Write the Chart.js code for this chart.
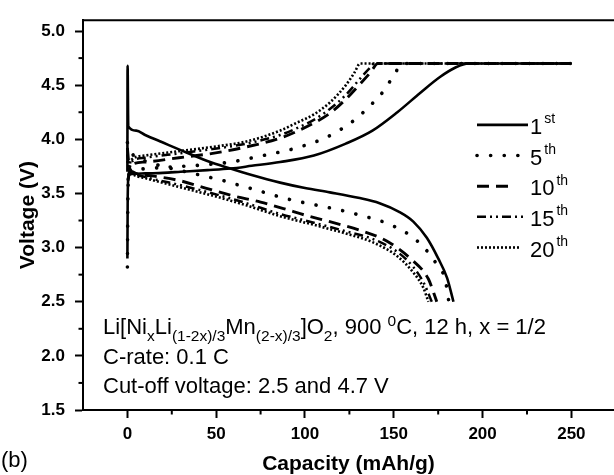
<!DOCTYPE html>
<html><head><meta charset="utf-8">
<script src="https://cdn.jsdelivr.net/npm/chart.js@4.4.1/dist/chart.umd.min.js"></script>
<style>html,body{margin:0;padding:0;background:#fff;overflow:hidden}canvas{display:block}</style>
</head><body>
<canvas id="c" width="614" height="475"></canvas>
<script>
// ---- axis ticks ----
const xTickValues = [0, 50, 100, 150, 200, 250];
const xMinorTickValues = [25, 75, 125, 175, 225];
const yTickValues = [1.5, 2.0, 2.5, 3.0, 3.5, 4.0, 4.5, 5.0];
const yMinorTickValues = [1.75, 2.25, 2.75, 3.25, 3.75, 4.25, 4.75];

// ---- cycle labels ----
const cycleNumbers = ['1', '5', '10', '15', '20'];
const cycleSuffixes = ['st', 'th', 'th', 'th', 'th'];

// ---- 1st cycle ----
const cap1Charge  = [0, 0.15, 0.4, 1, 3, 10, 20, 30, 45, 58, 70, 86, 105, 123, 138, 152, 165, 176, 185, 192, 250];
const volt1Charge = [2.90, 3.40, 3.62, 3.67, 3.68, 3.685, 3.69, 3.70, 3.715, 3.73, 3.755, 3.79, 3.85, 3.96, 4.08, 4.25, 4.43, 4.575, 4.665, 4.70, 4.70];
const cap1Discharge  = [0, 0.1, 0.5, 5, 10, 20, 30, 45, 58, 70, 86, 100, 114, 130, 142, 153, 161, 168.6, 175, 180, 183.6];
const volt1Discharge = [3.70, 4.68, 4.12, 4.08, 4.04, 3.97, 3.90, 3.80, 3.73, 3.67, 3.60, 3.55, 3.51, 3.46, 3.41, 3.33, 3.24, 3.09, 2.90, 2.72, 2.50];

// ---- 5th cycle ----
const cap5Charge  = [0, 0.3, 1, 5, 20, 40, 58, 75, 93, 102, 111, 120, 128, 136, 144, 150, 155, 250];
const volt5Charge = [2.82, 3.50, 3.68, 3.72, 3.74, 3.76, 3.79, 3.845, 3.91, 3.955, 4.01, 4.09, 4.18, 4.30, 4.44, 4.59, 4.70, 4.70];
const cap5Discharge  = [0, 3, 10, 20, 33, 46, 56, 64, 73, 81, 90, 98, 107, 116, 124, 133, 142, 151, 159.5, 167.6, 174, 179, 181];
const volt5Discharge = [3.97, 3.86, 3.80, 3.75, 3.70, 3.65, 3.61, 3.57, 3.53, 3.49, 3.45, 3.42, 3.39, 3.36, 3.33, 3.29, 3.25, 3.19, 3.11, 2.99, 2.85, 2.70, 2.50];

// ---- 10th cycle ----
const cap10Charge  = [0.3, 1.5, 3, 10, 29, 48, 67, 86, 95, 105, 114, 123, 131, 137, 141, 250];
const volt10Charge = [3.62, 3.72, 3.77, 3.79, 3.83, 3.87, 3.93, 4.01, 4.07, 4.15, 4.24, 4.37, 4.51, 4.62, 4.70, 4.70];
const cap10Discharge  = [0, 1, 3, 15, 29, 44, 59, 75, 90, 100, 116, 131, 146, 160, 169.5, 172.5, 174.2];
const volt10Discharge = [3.92, 3.75, 3.70, 3.66, 3.62, 3.55, 3.48, 3.42, 3.35, 3.30, 3.23, 3.16, 3.06, 2.89, 2.71, 2.58, 2.50];

// ---- 15th cycle ----
const cap15Charge  = [0.3, 1.5, 3, 10, 29, 48, 67, 86, 95, 105, 114, 123, 131, 136, 139, 250];
const volt15Charge = [3.62, 3.75, 3.80, 3.83, 3.87, 3.91, 3.96, 4.04, 4.10, 4.18, 4.28, 4.41, 4.56, 4.65, 4.70, 4.70];
const cap15Discharge  = [0, 1, 3, 10.5, 29, 48, 67, 86, 105, 123, 138, 152, 161, 167, 171.4];
const volt15Discharge = [3.86, 3.73, 3.69, 3.65, 3.58, 3.50, 3.41, 3.31, 3.23, 3.15, 3.08, 2.96, 2.82, 2.67, 2.50];

// ---- 20th cycle ----
const cap20Charge  = [0.3, 1.5, 3, 10, 29, 48, 67, 86, 95, 105, 114, 123, 128, 131, 250];
const volt20Charge = [3.63, 3.78, 3.82, 3.85, 3.89, 3.93, 3.98, 4.08, 4.15, 4.23, 4.34, 4.50, 4.62, 4.70, 4.70];
const cap20Discharge  = [0, 1, 3, 10.5, 29, 48, 67, 86, 105, 123, 138, 152, 161, 166.6, 169.5];
const volt20Discharge = [3.80, 3.72, 3.68, 3.64, 3.56, 3.48, 3.39, 3.29, 3.21, 3.13, 3.05, 2.92, 2.77, 2.63, 2.50];

// ---- annotation text ----
const noteLine1 = [['Li[Ni',''],['x','sub'],['Li',''],['(1-2x)/3','sub'],['Mn',''],['(2-x)/3','sub'],[']O',''],['2','sub'],[', 900 ',''],['0','sup'],['C, 12 h, x = 1/2','']];
const noteLine2 = 'C-rate: 0.1 C';
const noteLine3 = 'Cut-off voltage: 2.5 and 4.7 V';
const panelLabel = '(b)';

const FONT = '"Liberation Sans", Arial, Helvetica, sans-serif';

const cycleStyles = [
  {w: 2.6, dash: [], cap: 'butt'},
  {w: 3.6, dash: [0.1, 13.5], cap: 'round'},
  {w: 2.9, dash: [12, 7], cap: 'butt'},
  {w: 2.5, dash: [9, 4, 2, 4, 2, 4], cap: 'butt'},
  {w: 2.6, dash: [2, 2], cap: 'butt'}
];

const curves = [
  [0, cap1Charge, volt1Charge], [0, cap1Discharge, volt1Discharge],
  [1, cap5Charge, volt5Charge], [1, cap5Discharge, volt5Discharge],
  [2, cap10Charge, volt10Charge], [2, cap10Discharge, volt10Discharge],
  [3, cap15Charge, volt15Charge], [3, cap15Discharge, volt15Discharge],
  [4, cap20Charge, volt20Charge], [4, cap20Discharge, volt20Discharge]
];

const datasets = curves.map(([ci, caps, volts]) => ({
  label: cycleNumbers[ci] + cycleSuffixes[ci],
  data: caps.map((c, i) => ({x: c, y: volts[i]})),
  borderColor: '#000',
  borderWidth: cycleStyles[ci].w,
  borderDash: cycleStyles[ci].dash,
  borderCapStyle: cycleStyles[ci].cap,
  pointRadius: 0,
  fill: false,
  cubicInterpolationMode: 'monotone'
}));

function drawRich(ctx, segs, x, y, size) {
  ctx.textBaseline = 'alphabetic';
  ctx.textAlign = 'left';
  for (const [t, kind] of segs) {
    let fs = size, dy = 0;
    if (kind === 'sub') { fs = 15.5; dy = 7; }
    if (kind === 'sup') { fs = 15.5; dy = -8; }
    ctx.font = fs + 'px ' + FONT;
    ctx.fillText(t, x, y + dy);
    x += ctx.measureText(t).width;
  }
  return x;
}

const decor = {
  id: 'decor',
  afterDraw(chart) {
    const ctx = chart.ctx;
    const a = chart.chartArea;
    const xs = chart.scales.x, ys = chart.scales.y;
    ctx.save();
    ctx.strokeStyle = '#000';
    ctx.fillStyle = '#000';
    // top frame line
    ctx.lineWidth = 2;
    ctx.beginPath();
    ctx.moveTo(a.left - 1, a.top);
    ctx.lineTo(a.right + 2, a.top);
    ctx.stroke();
    // minor ticks
    for (const v of xMinorTickValues) {
      const px = xs.getPixelForValue(v);
      ctx.beginPath(); ctx.moveTo(px, a.bottom); ctx.lineTo(px, a.bottom + 4.5); ctx.stroke();
    }
    for (const v of yMinorTickValues) {
      const py = ys.getPixelForValue(v);
      ctx.beginPath(); ctx.moveTo(a.left, py); ctx.lineTo(a.left - 4.5, py); ctx.stroke();
    }
    // legend
    const lineEnds = [528, 527, 515, 525, 520];
    for (let i = 0; i < cycleNumbers.length; i++) {
      const st = cycleStyles[i];
      const ly = a.top + 104.7 + i * 30.65;
      ctx.lineWidth = st.w;
      ctx.setLineDash(st.dash);
      ctx.lineCap = st.cap;
      ctx.beginPath(); ctx.moveTo(477, ly); ctx.lineTo(lineEnds[i], ly); ctx.stroke();
      ctx.setLineDash([]);
      ctx.lineCap = 'butt';
      ctx.textAlign = 'left'; ctx.textBaseline = 'alphabetic';
      ctx.font = '22px ' + FONT;
      ctx.fillText(cycleNumbers[i], 530, ly + 9);
      const w = ctx.measureText(cycleNumbers[i]).width;
      ctx.font = '14px ' + FONT;
      ctx.fillText(cycleSuffixes[i], 530 + w + 2, ly - 1.5);
    }
    // annotation
    drawRich(ctx, noteLine1, 103, 334, 22);
    ctx.font = '22px ' + FONT;
    ctx.fillText(noteLine2, 103, 364);
    ctx.fillText(noteLine3, 103, 393);
    // panel label
    ctx.font = '22px ' + FONT;
    ctx.textBaseline = 'middle';
    ctx.fillText(panelLabel, 1, 461);
    ctx.restore();
  }
};

new Chart(document.getElementById('c'), {
  type: 'line',
  data: {datasets},
  options: {
    responsive: false,
    devicePixelRatio: 1,
    animation: false,
    layout: {padding: {top: 16, right: 0, left: 0, bottom: 0}},
    plugins: {legend: {display: false}, tooltip: {enabled: false}},
    scales: {
      x: {
        type: 'linear', min: -25, max: 274,
        afterBuildTicks: s => { s.ticks = xTickValues.map(v => ({value: v})); },
        afterFit: s => { s.height = 65; },
        grid: {display: true, drawOnChartArea: false, drawTicks: true, tickLength: 8, tickWidth: 2, tickColor: '#000'},
        border: {display: true, color: '#000', width: 2},
        ticks: {color: '#000', padding: 6, maxRotation: 0, autoSkip: false,
          font: {family: FONT, size: 17, weight: 'bold'},
          callback: v => String(v)},
        title: {display: true, text: 'Capacity (mAh/g)', color: '#000',
          font: {family: FONT, size: 21, weight: 'bold', lineHeight: 1}, padding: {top: 0, bottom: 0}}
      },
      y: {
        type: 'linear', min: 1.5, max: 5.1,
        afterBuildTicks: s => { s.ticks = yTickValues.map(v => ({value: v})); },
        afterFit: s => { s.width = 83; },
        grid: {display: true, drawOnChartArea: false, drawTicks: true, tickLength: 8, tickWidth: 2, tickColor: '#000'},
        border: {display: true, color: '#000', width: 2},
        ticks: {color: '#000', padding: 10, autoSkip: false,
          font: {family: FONT, size: 17, weight: 'bold'},
          callback: v => Number(v).toFixed(1)},
        title: {display: true, text: 'Voltage (V)', color: '#000',
          font: {family: FONT, size: 21, weight: 'bold', lineHeight: 1.2}, padding: {top: 16, bottom: 0}}
      }
    }
  },
  plugins: [decor]
});
</script>
</body></html>
